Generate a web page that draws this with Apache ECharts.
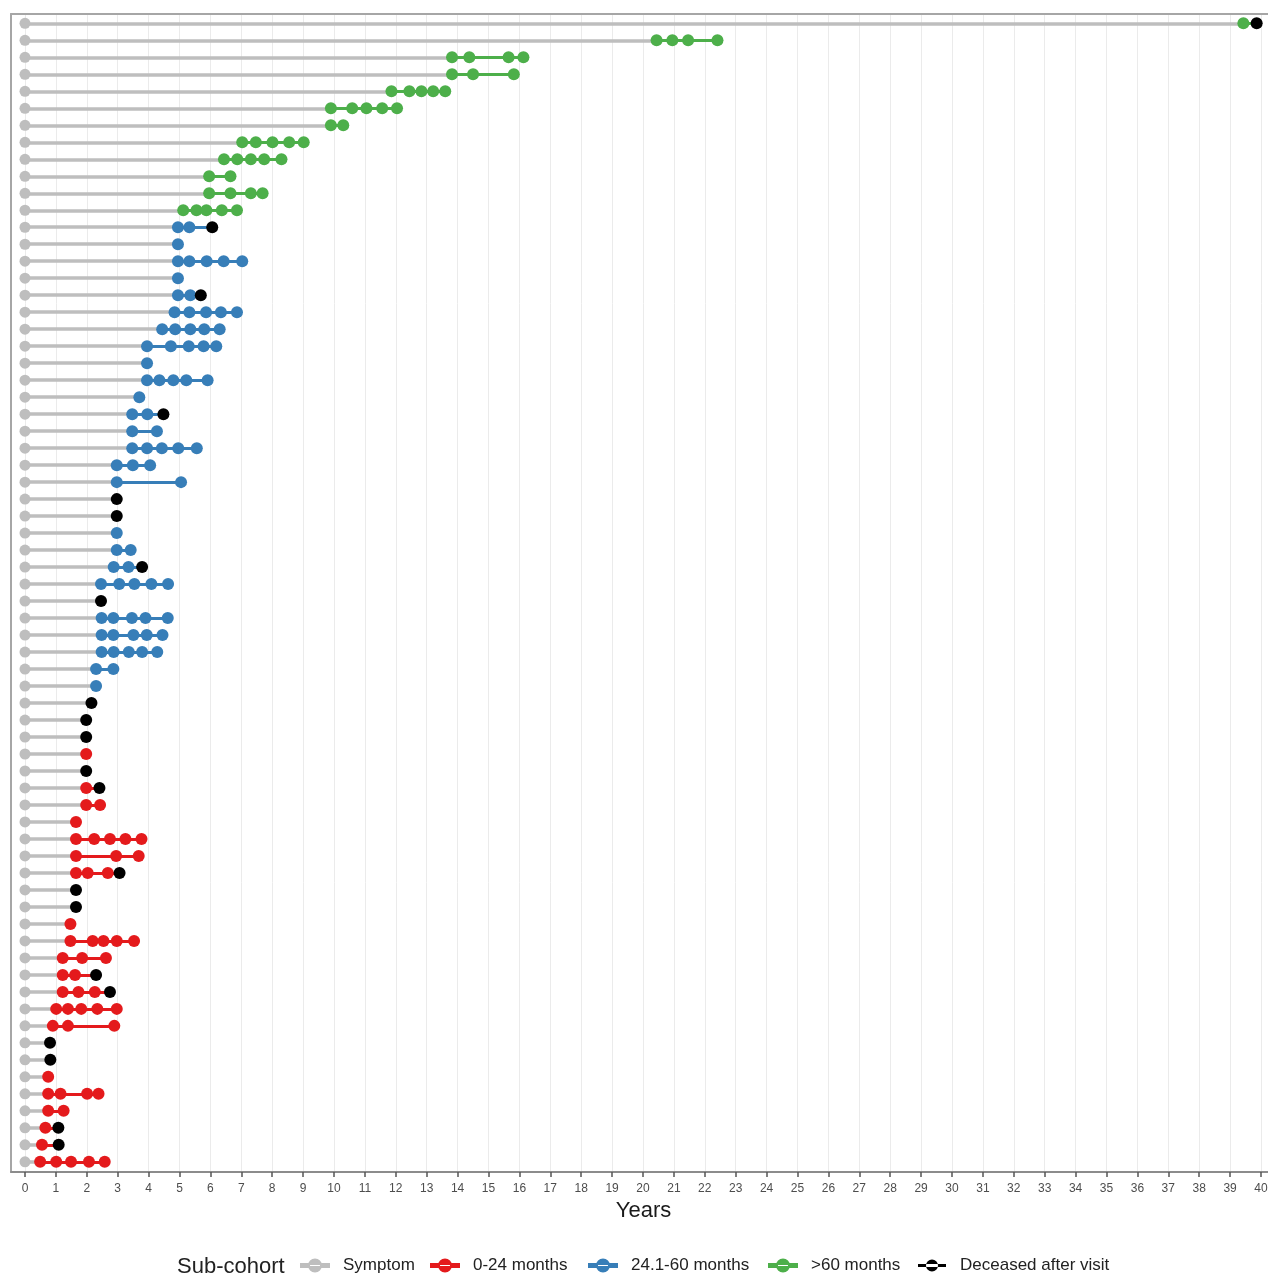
<!DOCTYPE html>
<html>
<head>
<meta charset="utf-8">
<script src="https://cdn.jsdelivr.net/npm/echarts@6/dist/echarts.min.js"></script>
<style>
  html, body { margin: 0; padding: 0; background: #ffffff; }
  #chart { width: 1268px; height: 1276px; }
</style>
</head>
<body>
<div id="chart"></div>
<script>
// Year ticks along the x axis
const yearTicks = [0, 1, 2, 3, 4, 5, 6, 7, 8, 9, 10, 11, 12, 13, 14, 15, 16, 17, 18, 19, 20,
  21, 22, 23, 24, 25, 26, 27, 28, 29, 30, 31, 32, 33, 34, 35, 36, 37, 38, 39, 40];

// Sub-cohort names (index used in rowCohort)
const groupNames = ['0-24 months', '24.1-60 months', '>60 months'];

// Sub-cohort of each patient row, top to bottom (null: no visit recorded before death)
const rowCohort = [
  2, 2, 2, 2, 2, 2, 2, 2, 2, 2, 2, 2,
  1, 1, 1, 1, 1, 1, 1, 1, 1, 1, 1, 1, 1, 1, 1, 1,
  null, null, 1, 1, 1, 1, null, 1, 1, 1, 1, 1,
  null, null, null, 0, null, 0, 0, 0, 0, 0, 0, null, null,
  0, 0, 0, 0, 0, 0, 0, null, null, 0, 0, 0, 0, 0, 0
];

// Visit times (years since symptom onset) for each patient row
const visitYears = [
  [39.43],
  [20.44, 20.95, 21.46, 22.41],
  [13.82, 14.38, 15.65, 16.13],
  [13.82, 14.50, 15.82],
  [11.86, 12.44, 12.83, 13.21, 13.60],
  [9.90, 10.59, 11.05, 11.56, 12.04],
  [9.90, 10.30],
  [7.03, 7.47, 8.01, 8.55, 9.02],
  [6.44, 6.87, 7.31, 7.74, 8.30],
  [5.96, 6.65],
  [5.96, 6.65, 7.31, 7.69],
  [5.12, 5.55, 5.87, 6.37, 6.86],
  [4.95, 5.32],
  [4.95],
  [4.95, 5.32, 5.88, 6.43, 7.03],
  [4.95],
  [4.95, 5.35],
  [4.84, 5.32, 5.86, 6.34, 6.86],
  [4.44, 4.86, 5.35, 5.80, 6.30],
  [3.95, 4.72, 5.30, 5.78, 6.19],
  [3.95],
  [3.95, 4.35, 4.80, 5.22, 5.91],
  [3.70],
  [3.47, 3.96],
  [3.47, 4.27],
  [3.47, 3.95, 4.43, 4.96, 5.56],
  [2.97, 3.49, 4.05],
  [2.97, 5.05],
  [],
  [],
  [2.97],
  [2.97, 3.42],
  [2.87, 3.35],
  [2.46, 3.05, 3.54, 4.09, 4.63],
  [],
  [2.48, 2.86, 3.46, 3.90, 4.62],
  [2.48, 2.86, 3.51, 3.94, 4.45],
  [2.48, 2.87, 3.36, 3.79, 4.28],
  [2.30, 2.86],
  [2.30],
  [],
  [],
  [],
  [1.98],
  [],
  [1.98],
  [1.98, 2.43],
  [1.65],
  [1.65, 2.24, 2.75, 3.25, 3.77],
  [1.65, 2.95, 3.68],
  [1.65, 2.03, 2.68],
  [],
  [],
  [1.47],
  [1.47, 2.19, 2.54, 2.97, 3.53],
  [1.22, 1.85, 2.62],
  [1.22, 1.62],
  [1.22, 1.73, 2.26],
  [1.01, 1.39, 1.82, 2.34, 2.97],
  [0.90, 1.39, 2.89],
  [],
  [],
  [0.75],
  [0.75, 1.15, 2.01, 2.38],
  [0.75, 1.25],
  [0.66],
  [0.55],
  [0.49, 1.01, 1.49, 2.07, 2.58]
];

// Time of death (years) for patients deceased after their last visit
const deceasedYears = [
  39.86, null, null, null, null, null, null, null, null, null, null, null,
  6.06, null, null, null, 5.69, null, null, null, null, null, null, 4.48, null, null, null, null,
  2.97, 2.97, null, null, 3.79, null, 2.46, null, null, null, null, null,
  2.15, 1.98, 1.98, null, 1.98, 2.41, null, null, null, null, 3.06, 1.65, 1.65,
  null, null, null, 2.30, 2.75, null, null, 0.81, 0.82, null, null, null, 1.08, 1.09, null
];

const symptomColor = '#BEBEBE';
const groupColors = ['#E41A1C', '#377EB8', '#4DAF4A'];
const deathColor = '#000000';
const frameColor = '#a6a6a6';

// Build segments and points per layer
const symptomSegments = [], symptomPoints = [], deathPoints = [];
const groupSegments = [[], [], []], groupPoints = [[], [], []];
visitYears.forEach((v, i) => {
  const d = deceasedYears[i];
  const first = v.length ? v[0] : d;
  symptomPoints.push([0, i]);
  symptomSegments.push({ coords: [[0, i], [first, i]] });
  const g = rowCohort[i];
  if (g !== null && v.length) {
    const last = d !== null ? d : v[v.length - 1];
    if (last > v[0]) groupSegments[g].push({ coords: [[v[0], i], [last, i]] });
    v.forEach(t => groupPoints[g].push([t, i]));
  }
  if (d !== null) deathPoints.push([d, i]);
});

const FONT = 'Liberation Sans, Arial, sans-serif';
const iconPath = 'path://M0,4.5 L28,4.5 L28,7.5 L0,7.5 Z M8,6 A6,6 0 1,0 20,6 A6,6 0 1,0 8,6 Z';

const series = [];
series.push({
  name: 'Symptom', type: 'lines', coordinateSystem: 'cartesian2d', z: 2,
  lineStyle: { color: symptomColor, width: 3.5, opacity: 1 },
  data: symptomSegments
});
groupNames.forEach((n, g) => {
  series.push({
    name: n, type: 'lines', coordinateSystem: 'cartesian2d', z: 3,
    lineStyle: { color: groupColors[g], width: 3, opacity: 1 },
    data: groupSegments[g]
  });
});
series.push({
  name: 'Symptom', type: 'scatter', z: 4, symbolSize: 11,
  itemStyle: { color: symptomColor, opacity: 1 },
  data: symptomPoints
});
groupNames.forEach((n, g) => {
  series.push({
    name: n, type: 'scatter', z: 5, symbolSize: 12,
    itemStyle: { color: groupColors[g], opacity: 1 },
    data: groupPoints[g]
  });
});
series.push({
  name: 'Deceased after visit', type: 'scatter', z: 6, symbolSize: 12,
  itemStyle: { color: deathColor, opacity: 1 },
  data: deathPoints
});

const legendItems = [
  { name: 'Symptom', color: symptomColor, left: 300 },
  { name: '0-24 months', color: groupColors[0], left: 430 },
  { name: '24.1-60 months', color: groupColors[1], left: 588 },
  { name: '>60 months', color: groupColors[2], left: 768 },
  { name: 'Deceased after visit', color: deathColor, left: 918 }
];

const X_MIN = -0.453, X_MAX = 40.227;

const chart = echarts.init(document.getElementById('chart'), null, { renderer: 'canvas' });
chart.setOption({
  animation: false,
  backgroundColor: '#ffffff',
  grid: { left: 11, top: 14, right: 0, height: 1158, show: false, outerBoundsMode: 'none', containLabel: false },
  xAxis: [{
    type: 'value', min: X_MIN, max: X_MAX,
    name: 'Years', nameLocation: 'middle', nameGap: 28,
    nameTextStyle: { fontSize: 22, color: '#1a1a1a', fontFamily: FONT, padding: [0, 0, 0, 8] },
    axisLine: { show: true, onZero: false, lineStyle: { color: '#8c8c8c', width: 2 } },
    axisTick: { show: true, length: 5, customValues: yearTicks, lineStyle: { color: '#555555', width: 1.5 } },
    axisLabel: { customValues: yearTicks, margin: 11, fontSize: 12, color: '#4d4d4d', fontFamily: FONT },
    splitLine: { show: true, lineStyle: { color: '#ebebeb', width: 1 } }
  }, {
    type: 'value', position: 'top', min: X_MIN, max: X_MAX,
    axisLine: { show: true, onZero: false, lineStyle: { color: frameColor, width: 2 } },
    axisTick: { show: false }, axisLabel: { show: false }, splitLine: { show: false }
  }],
  yAxis: {
    type: 'value', inverse: true, min: -0.55, max: 67.6,
    axisLine: { show: true, onZero: false, lineStyle: { color: frameColor, width: 2 } },
    axisTick: { show: false }, axisLabel: { show: false }, splitLine: { show: false }
  },
  legend: legendItems.map(it => ({
    data: [{ name: it.name, icon: iconPath, itemStyle: { color: it.color } }],
    left: it.left, top: 1257, itemWidth: 28, itemHeight: 12, padding: 0,
    selectedMode: false,
    textStyle: { fontSize: 17, color: '#222222', fontFamily: FONT, padding: [0, 0, 0, 9] }
  })),
  graphic: [{
    type: 'text', left: 177, top: 1256,
    style: { text: 'Sub-cohort', fontSize: 22, fill: '#222222', fontFamily: FONT }
  }],
  series: series
});
</script>
</body>
</html>
